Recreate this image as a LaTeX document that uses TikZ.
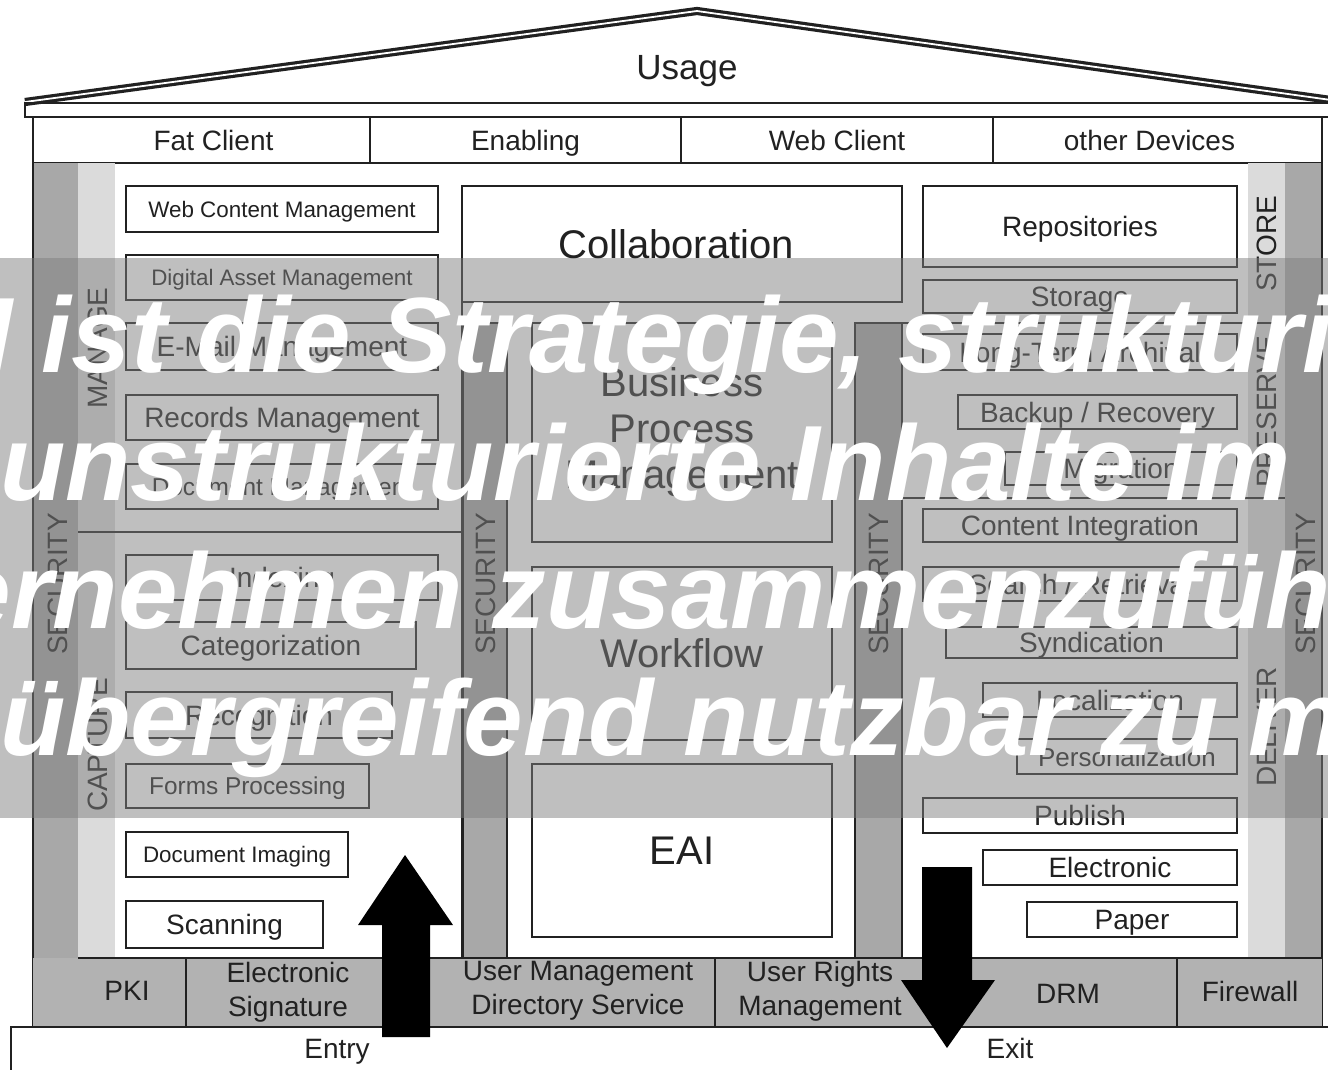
\documentclass[tikz,border=0pt]{standalone}
\usepackage{fontspec}
\setmainfont{Liberation Sans}
\definecolor{ink}{gray}{0.13}
\definecolor{secgray}{gray}{0.66}
\definecolor{lightstrip}{gray}{0.86}
\definecolor{rowgray}{gray}{0.70}
\tikzset{
  frame/.style={draw=ink,line width=1pt},
  box/.style={draw=ink,line width=1.1pt,fill=white},
  roof/.style={draw=ink,line width=1.6pt,double=white,double distance=0.9pt},
  lbl/.style={font=\fontsize{14}{17}\selectfont,text=ink,inner sep=0pt,text height=11pt,text depth=1pt},
  lbltwo/.style={font=\fontsize{14}{17}\selectfont,text=ink,align=center,inner sep=0pt},
  sml/.style={font=\fontsize{11.2}{13}\selectfont,text=ink,inner sep=0pt,text height=9pt,text depth=1pt},
  mdl/.style={font=\fontsize{12.2}{14}\selectfont,text=ink,inner sep=0pt,text height=9.5pt,text depth=0.8pt},
  big/.style={font=\fontsize{20}{23}\selectfont,text=ink,inner sep=0pt,text height=15.5pt,text depth=1.1pt},
  bigtwo/.style={font=\fontsize{20}{23}\selectfont,text=ink,align=center,inner sep=0pt},
  ovl/.style={anchor=base west,inner sep=0pt,text=white,font=\fontsize{53.5}{60}\selectfont\bfseries\itshape}
}
\begin{document}
\begin{tikzpicture}[x=0.5pt,y=-0.5pt]
	\useasboundingbox (0,0) rectangle (1328,1070);
	\clip (0,0) rectangle (1328,1070);
	\fill[white] (0,0) rectangle (1328,1070);
	% roof and clients
	\draw[roof] (25,102) -- (697,11) -- (1345,102);
	\node[lbl,font=\fontsize{17.5}{20}\selectfont,text height=13.5pt] (usage) at (687,67) {Usage};
	\draw[frame] (25,103) rectangle (1345,117);
	\draw[frame] (33,117) rectangle (370,163) node[midway,lbl,xshift=6pt] (fat) {Fat Client};
	\draw[frame] (370,117) rectangle (681,163) node[midway,lbl] (enab) {Enabling};
	\draw[frame] (681,117) rectangle (993,163) node[midway,lbl] (web) {Web Client};
	\draw[frame] (993,117) rectangle (1322,163) node[midway,lbl,xshift=-4pt] (dev) {other Devices};
	% strips
	\fill[secgray] (33,163) rectangle (78,1027);
	\fill[secgray] (1285,163) rectangle (1322,958);
	\fill[lightstrip] (78,163) rectangle (115,958);
	\fill[lightstrip] (1248,163) rectangle (1285,958);
	\draw[frame,fill=secgray] (463,323) rectangle (507,958);
	\draw[frame,fill=secgray] (855,323) rectangle (902,958);
	\draw[frame] (33,163) -- (33,1027) (1322,163) -- (1322,1027);
	\draw[frame] (462,302) -- (462,958);
	\draw[frame] (78,532) -- (462,532);
	\draw[frame] (902,323) -- (1285,323) (902,498) -- (1285,498);
	\node[lbl,rotate=90] (secA) at (58,584) {SECURITY};
	\node[lbl,rotate=90] (secB) at (485,584) {SECURITY};
	\node[lbl,rotate=90] (secC) at (878,584) {SECURITY};
	\node[lbl,rotate=90] (secD) at (1305,584) {SECURITY};
	\node[lbl,rotate=90] (manage) at (97,348) {MANAGE};
	\node[lbl,rotate=90] (capture) at (97,745) {CAPTURE};
	\node[lbl,rotate=90] (store) at (1266,244) {STORE};
	\node[lbl,rotate=90] (preserve) at (1266,412) {PRESERVE};
	\node[lbl,rotate=90] (deliver) at (1266,727) {DELIVER};
	% manage and capture
	\draw[box] (126,186) rectangle (438,232) node[midway,sml] (wcm) {Web Content Management};
	\draw[box] (126,255) rectangle (438,300) node[midway,sml] (dam) {Digital Asset Management};
	\draw[box] (126,323) rectangle (438,370) node[midway,lbl] (mail) {E-Mail Management};
	\draw[box] (126,395) rectangle (438,440) node[midway,lbl] (rm) {Records Management};
	\draw[box] (126,464) rectangle (438,509) node[midway,mdl] (dm) {Document Management};
	\draw[box] (126,555) rectangle (438,600) node[midway,lbl] (idx) {Indexing};
	\draw[box] (126,622) rectangle (416,669) node[midway,lbl] (cat) {Categorization};
	\draw[box] (126,692) rectangle (392,738) node[midway,lbl] (rec) {Recognition};
	\draw[box] (126,764) rectangle (369,808) node[midway,mdl] (forms) {Forms Processing};
	\draw[box] (126,832) rectangle (348,877) node[midway,sml] (img) {Document Imaging};
	\draw[box] (126,901) rectangle (323,948) node[midway,lbl] (scan) {Scanning};
	% centre
	\draw[box] (462,186) rectangle (902,302) node[midway,big,xshift=-3pt] (collab) {Collaboration};
	\draw[box] (532,323) rectangle (832,542) node[midway,bigtwo] (bpm) {Business\\Process\\Management};
	\draw[box] (532,567) rectangle (832,740) node[midway,big] (wf) {Workflow};
	\draw[box] (532,764) rectangle (832,937) node[midway,big] (eai) {EAI};
	% store, preserve, deliver
	\draw[box] (923,186) rectangle (1237,267) node[midway,lbl] (repo) {Repositories};
	\draw[box] (923,280) rectangle (1237,313) node[midway,lbl] (stor) {Storage};
	\draw[box] (923,334) rectangle (1237,370) node[midway,lbl] (lta) {Long-Term Archival};
	\draw[box] (958,395) rectangle (1237,429) node[midway,lbl] (backup) {Backup / Recovery};
	\draw[box] (1005,452) rectangle (1237,485) node[midway,lbl] (migr) {Migration};
	\draw[box] (923,509) rectangle (1237,542) node[midway,lbl] (ci) {Content Integration};
	\draw[box] (923,567) rectangle (1237,601) node[midway,lbl] (search) {Search / Retrieval};
	\draw[box] (946,627) rectangle (1237,658) node[midway,lbl] (synd) {Syndication};
	\draw[box] (983,683) rectangle (1237,717) node[midway,lbl] (loc) {Localization};
	\draw[box] (1017,739) rectangle (1237,774) node[midway,lbl,font=\fontsize{13}{15}\selectfont] (pers) {Personalization};
	\draw[box] (923,798) rectangle (1237,833) node[midway,lbl] (pub) {Publish};
	\draw[box] (983,850) rectangle (1237,885) node[midway,lbl] (elec) {Electronic};
	\draw[box] (1027,902) rectangle (1237,937) node[midway,lbl] (paper) {Paper};
	% base services
	\fill[rowgray] (33,958) rectangle (1322,1027);
	\draw[frame] (78,958) -- (1322,958);
	\draw[frame] (186,958) -- (186,1027) (410,958) -- (410,1027) (715,958) -- (715,1027)
		(945,958) -- (945,1027) (1177,958) -- (1177,1027);
	\node[lbl] (pki) at (127,990) {PKI};
	\node[lbltwo] (esig) at (288,992) {Electronic\\Signature};
	\node[lbltwo] (usrm) at (578,991) {User Management\\Directory Service};
	\node[lbltwo] (urm) at (820,991) {User Rights\\Management};
	\node[lbl] (drm) at (1068,993) {DRM};
	\node[lbl] (fw) at (1250,991) {Firewall};
	\draw[frame,fill=white] (11,1027) rectangle (1345,1085);
	\node[lbl] (entry) at (337,1048) {Entry};
	\node[lbl] (exit) at (1010,1048) {Exit};
	% entry and exit
	\fill[black] (382,1037) -- (382,925) -- (358,925) -- (405,855) -- (453,925) -- (430,925) -- (430,1037) -- cycle;
	\fill[black] (922,867) -- (972,867) -- (972,980) -- (995,980) -- (947,1048) -- (901,980) -- (922,980) -- cycle;
	% overlay
	\fill[gray,opacity=0.5] (0,258) rectangle (1328,818);
	\node[ovl] (ovA) at (-226,372) {ECM ist die Strategie, strukturierte};
	\node[ovl] (ovB) at (-226,500) {und unstrukturierte Inhalte im};
	\node[ovl] (ovC) at (-227,628) {Unternehmen zusammenzuführen};
	\node[ovl] (ovD) at (-226,755) {und übergreifend nutzbar zu machen};
\end{tikzpicture}
\end{document}
